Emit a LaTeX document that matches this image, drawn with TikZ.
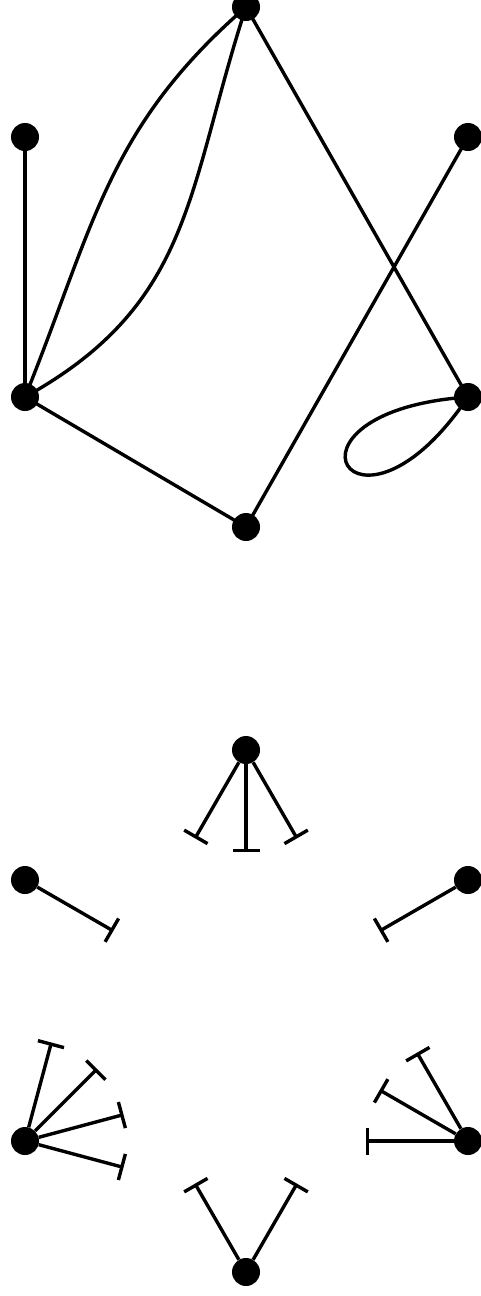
\documentclass[tikz,border=0pt]{standalone}
\usetikzlibrary{arrows.meta}
\begin{document}
\begin{tikzpicture}[x=1pt,y=1pt,
  vert/.style={circle,fill=black,inner sep=0pt,minimum size=28pt},
  edge/.style={line width=3.4pt,black},
  stub/.style={line width=3.4pt,black,-{Bar[width=27pt]}}]
\useasboundingbox (0,0) rectangle (481,-1296);
% top graph
\node[vert] (A) at (246,-7) {};
\node[vert] (B) at (25,-137) {};
\node[vert] (C) at (468,-137) {};
\node[vert] (D) at (25,-397) {};
\node[vert] (E) at (468,-397) {};
\node[vert] (F) at (246,-527) {};
\draw[edge] (B.center) -- (D.center);
\draw[edge] (D.center) to[out=68,in=221,looseness=1.05] (A.center);
\draw[edge] (D.center) to[out=29,in=252,looseness=1.1] (A.center);
\draw[edge] (A.center) -- (E.center);
\draw[edge] (C.center) -- (F.center);
\draw[edge] (D.center) -- (F.center);
\draw[edge] (E.center) .. controls +(184:208) and +(236:203) .. (E.center);
% bottom graph
\node[vert] (G) at (246,-750) {};
\node[vert] (H) at (25,-880) {};
\node[vert] (I) at (468,-880) {};
\node[vert] (J) at (25,-1141) {};
\node[vert] (K) at (468,-1141) {};
\node[vert] (L) at (246,-1272) {};
\path (G.center) ++(240:102) coordinate (g1);
\path (G.center) ++(270:102) coordinate (g2);
\path (G.center) ++(300:102) coordinate (g3);
\path (H.center) ++(330:102) coordinate (h1);
\path (I.center) ++(210:102) coordinate (i1);
\path (J.center) ++(75:102) coordinate (j1);
\path (J.center) ++(45:102) coordinate (j2);
\path (J.center) ++(15:102) coordinate (j3);
\path (J.center) ++(-15:102) coordinate (j4);
\path (K.center) ++(120:102) coordinate (k1);
\path (K.center) ++(150:102) coordinate (k2);
\path (K.center) ++(180:102) coordinate (k3);
\path (L.center) ++(60:102) coordinate (l1);
\path (L.center) ++(120:102) coordinate (l2);
\foreach \s/\t in {G/g1,G/g2,G/g3,H/h1,I/i1,J/j1,J/j2,J/j3,J/j4,K/k1,K/k2,K/k3,L/l1,L/l2}
  \draw[stub] (\s) -- (\t);
\end{tikzpicture}
\end{document}
